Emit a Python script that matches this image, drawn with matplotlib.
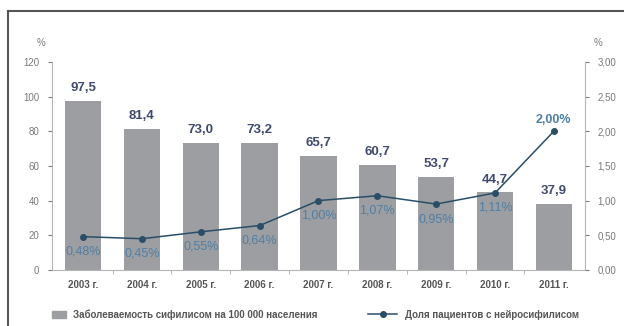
import matplotlib
matplotlib.use("Agg")
from matplotlib import pyplot as plt
from matplotlib.lines import Line2D
from matplotlib.patches import Patch
import numpy as np

# data
years = ['2003 г.', '2004 г.', '2005 г.', '2006 г.', '2007 г.',
         '2008 г.', '2009 г.', '2010 г.', '2011 г.']
incidence = [97.5, 81.4, 73.0, 73.2, 65.7, 60.7, 53.7, 44.7, 37.9]
neuro_years = ['2003 г.', '2004 г.', '2005 г.', '2006 г.', '2007 г.',
               '2008 г.', '2009 г.', '2010 г.', '2011 г.']
neuro_share = [0.48, 0.45, 0.55, 0.64, 1.00, 1.07, 0.95, 1.11, 2.00]
left_ticks = [0, 20, 40, 60, 80, 100, 120]
right_ticks = [0.0, 0.5, 1.0, 1.5, 2.0, 2.5, 3.0]

bar_label = 'Заболеваемость сифилисом на 100 000 населения'
line_label = 'Доля пациентов с нейросифилисом'

plt.rcParams['font.family'] = ['Liberation Sans Narrow', 'Liberation Sans', 'DejaVu Sans']

bar_color = '#9c9ea1'
line_color = '#2a4e68'
num_color = '#3f4a6e'
pct_color = '#4f7fa6'
tick_color = '#7a7a7a'


def fmt(v, nd):
    return f'{v:.{nd}f}'.replace('.', ',')


fig = plt.figure(figsize=(6.24, 3.26), dpi=100)
ax = fig.add_axes([0.0833, 0.172, 0.8542, 0.638])
x = np.arange(len(years))

ax.bar(x, incidence, width=0.62, color=bar_color, zorder=2)
for xi, v in zip(x, incidence):
    ax.text(xi, v + 4, fmt(v, 1), ha='center', va='bottom',
            fontsize=9.5, fontweight='bold', color=num_color)

ax.set_xlim(-0.53, len(years) - 1 + 0.53)
ax.set_ylim(0, 120)
ax.set_yticks(left_ticks)
ax.set_yticklabels([str(t) for t in left_ticks])
ax.set_xticks(x)
ax.set_xticklabels(years, fontsize=7, fontweight='bold', color='#555555')
ax.set_xticks(x[:-1] + 0.5, minor=True)
ax.tick_params(axis='x', which='major', length=0, pad=7)
ax.tick_params(axis='x', which='minor', length=3, color='#aaaaaa', direction='out')
ax.tick_params(axis='y', labelsize=7, colors=tick_color, length=3, pad=6)
for s in ['top', 'right']:
    ax.spines[s].set_visible(False)
for s in ['left', 'bottom']:
    ax.spines[s].set_color('#b5b5b5')

ax2 = ax.twinx()
xn = [years.index(y) for y in neuro_years]
ax2.plot(xn, neuro_share, color=line_color, lw=1.1, marker='o', ms=4, zorder=3)
ax2.set_ylim(0, 3)
ax2.set_yticks(right_ticks)
ax2.set_yticklabels([fmt(t, 2) for t in right_ticks])
ax2.tick_params(axis='y', labelsize=7, colors=tick_color, length=3, pad=6)
for s in ['top', 'left', 'bottom']:
    ax2.spines[s].set_visible(False)
ax2.spines['right'].set_color('#b5b5b5')

for xi, v in zip(xn, neuro_share):
    if v >= 2:
        ax2.text(xi, v + 0.07, fmt(v, 2) + '%', ha='center', va='bottom',
                 fontsize=9, color=pct_color, fontweight='bold')
    else:
        ax2.text(xi, v - 0.13, fmt(v, 2) + '%', ha='center', va='top',
                 fontsize=9, color=pct_color)

fig.text(0.066, 0.86, '%', fontsize=7, color=tick_color, ha='center')
fig.text(0.958, 0.86, '%', fontsize=7, color=tick_color, ha='center')

# legend, two parts placed like the original
leg_kw = dict(loc='center left', frameon=False, fontsize=7, borderpad=0,
              borderaxespad=0, labelcolor='#555555', handletextpad=0.8)
leg1 = fig.legend([Patch(color=bar_color)], [bar_label],
                  bbox_to_anchor=(52 / 624, 0.035), handlelength=1.4, **leg_kw)
leg2 = fig.legend([Line2D([], [], color=line_color, lw=1.1, marker='o', ms=4)],
                  [line_label], bbox_to_anchor=(368 / 624, 0.035),
                  handlelength=3.0, **leg_kw)
for lg in (leg1, leg2):
    for t in lg.get_texts():
        t.set_fontweight('bold')

# frame lines of the original figure
fig.add_artist(Line2D([8 / 624, 1], [1 - 11 / 326] * 2, color='#555555', lw=1.5,
                      transform=fig.transFigure))
fig.add_artist(Line2D([8 / 624] * 2, [0, 1 - 11 / 326], color='#555555', lw=1.5,
                      transform=fig.transFigure))

fig.savefig('out.png', dpi=100)
